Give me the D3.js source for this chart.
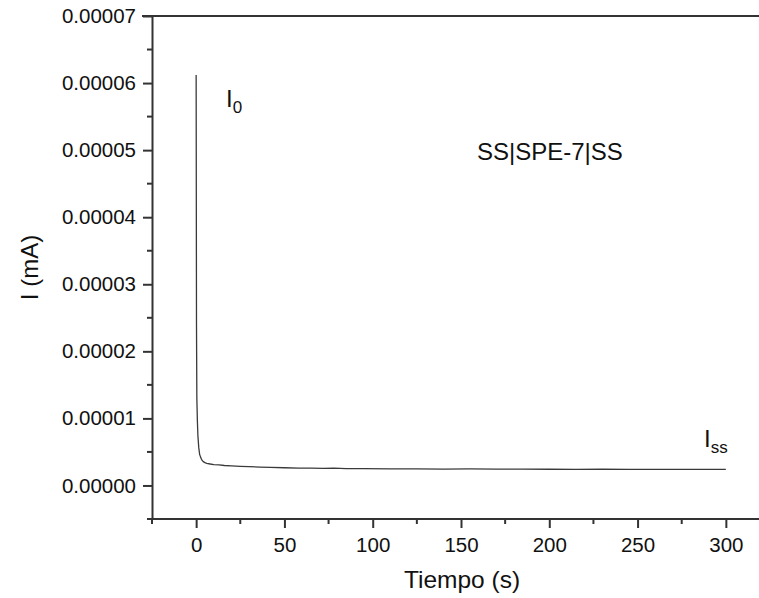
<!DOCTYPE html>
<html>
<head>
<meta charset="utf-8">
<script src="https://cdn.jsdelivr.net/npm/d3@7"></script>
<style>
  body { margin: 0; background: #fff; }
  svg { display: block; font-family: "Liberation Sans", Arial, sans-serif; }
</style>
</head>
<body>
<svg id="chart" width="759" height="598"></svg>
<script>
// Chronoamperometry SS|SPE-7|SS — current decay vs time
const tiempo = [0, 0, 0.2, 0.4, 0.7, 1, 1.5, 2, 3, 4, 5, 6, 8, 10, 13, 16, 20, 25, 30, 36, 42, 50, 58, 65, 72, 78, 85, 95,
    110, 125, 140, 155, 170, 185, 200, 215, 230, 245, 260, 275, 290, 300];
const corriente = [6.12e-5, 6.12e-5, 2.4e-5, 1.3e-5, 9.6e-6, 7.4e-6, 5.6e-6, 4.6e-6, 3.9e-6, 3.55e-6, 3.4e-6, 3.3e-6, 3.2e-6,
    3.12e-6, 3.07e-6, 2.98e-6, 2.92e-6, 2.85e-6, 2.8e-6, 2.74e-6, 2.7e-6, 2.64e-6, 2.6e-6, 2.58e-6, 2.55e-6, 2.58e-6,
    2.5e-6, 2.5e-6, 2.47e-6, 2.48e-6, 2.45e-6, 2.46e-6, 2.43e-6, 2.44e-6, 2.42e-6, 2.41e-6, 2.42e-6, 2.4e-6, 2.4e-6,
    2.39e-6, 2.4e-6, 2.39e-6];

const xMajor = [0, 50, 100, 150, 200, 250, 300];
const xMinor = [-25, 25, 75, 125, 175, 225, 275];
const yMajor = [0, 0.00001, 0.00002, 0.00003, 0.00004, 0.00005, 0.00006, 0.00007];
const yMinor = [-0.000005, 0.000005, 0.000015, 0.000025, 0.000035, 0.000045, 0.000055, 0.000065];

const svg = d3.select('#chart');
const axisColor = '#333';

const x = d3.scaleLinear().domain([-25, 325]).range([152, 770]);
const y = d3.scaleLinear().domain([-0.000005, 0.00007]).range([519, 16]);

const x0 = x.range()[0], x1 = x.range()[1];
const yTop = y.range()[1], yBot = y.range()[0];

// Data line
const line = d3.line().x((d, i) => x(tiempo[i])).y(d => y(d));
svg.append('path')
    .datum(corriente)
    .attr('d', line)
    .attr('fill', 'none')
    .attr('stroke', '#3a3a3a')
    .attr('stroke-width', 1.3)
    .attr('stroke-linejoin', 'round');

// Frame: top line
svg.append('line')
    .attr('x1', x0 - 10).attr('x2', x1)
    .attr('y1', yTop).attr('y2', yTop)
    .attr('stroke', axisColor).attr('stroke-width', 2);

// X axis
const gx = svg.append('g').attr('transform', `translate(0,${yBot})`);
gx.call(d3.axisBottom(x).tickValues(xMajor).tickSize(9).tickPadding(9).tickSizeOuter(0));
gx.append('g').selectAll('line').data(xMinor).join('line')
    .attr('x1', d => x(d)).attr('x2', d => x(d))
    .attr('y1', 0).attr('y2', 5)
    .attr('stroke', axisColor).attr('stroke-width', 2);

// Y axis
const gy = svg.append('g').attr('transform', `translate(${x0},0)`);
gy.call(d3.axisLeft(y).tickValues(yMajor).tickSize(9).tickPadding(7).tickSizeOuter(0)
    .tickFormat(d3.format('.5f')));
gy.append('g').selectAll('line').data(yMinor).join('line')
    .attr('x1', 0).attr('x2', -5)
    .attr('y1', d => y(d)).attr('y2', d => y(d))
    .attr('stroke', axisColor).attr('stroke-width', 2);

[gx, gy].forEach(g => {
    g.select('.domain').attr('stroke', axisColor).attr('stroke-width', 2);
    g.selectAll('.tick line').attr('stroke', axisColor).attr('stroke-width', 2);
    g.selectAll('.tick text').attr('fill', '#111').attr('font-size', 20.5)
        .attr('font-family', '"Liberation Sans", Arial, sans-serif');
});
gx.select('.domain').attr('d', `M${x0 - 4},0H${x1}`);

// Axis titles
svg.append('text')
    .attr('x', 462).attr('y', 588)
    .attr('text-anchor', 'middle')
    .attr('font-size', 24.5).attr('fill', '#111')
    .text('Tiempo (s)');

svg.append('text')
    .attr('transform', `translate(38,${(yTop + yBot) / 2}) rotate(-90)`)
    .attr('text-anchor', 'middle')
    .attr('font-size', 24).attr('fill', '#111')
    .text('I (mA)');

// Annotations
function subLabel(px, py, main, sub) {
    const t = svg.append('text').attr('x', px).attr('y', py)
        .attr('font-size', 24).attr('fill', '#111');
    t.append('tspan').text(main);
    t.append('tspan').attr('font-size', 17).attr('dy', 6).text(sub);
}
subLabel(226, 107, 'I', '0');
subLabel(704, 447, 'I', 'ss');

svg.append('text')
    .attr('x', 477).attr('y', 160)
    .attr('font-size', 24).attr('fill', '#111')
    .text('SS|SPE-7|SS');
</script>
</body>
</html>
